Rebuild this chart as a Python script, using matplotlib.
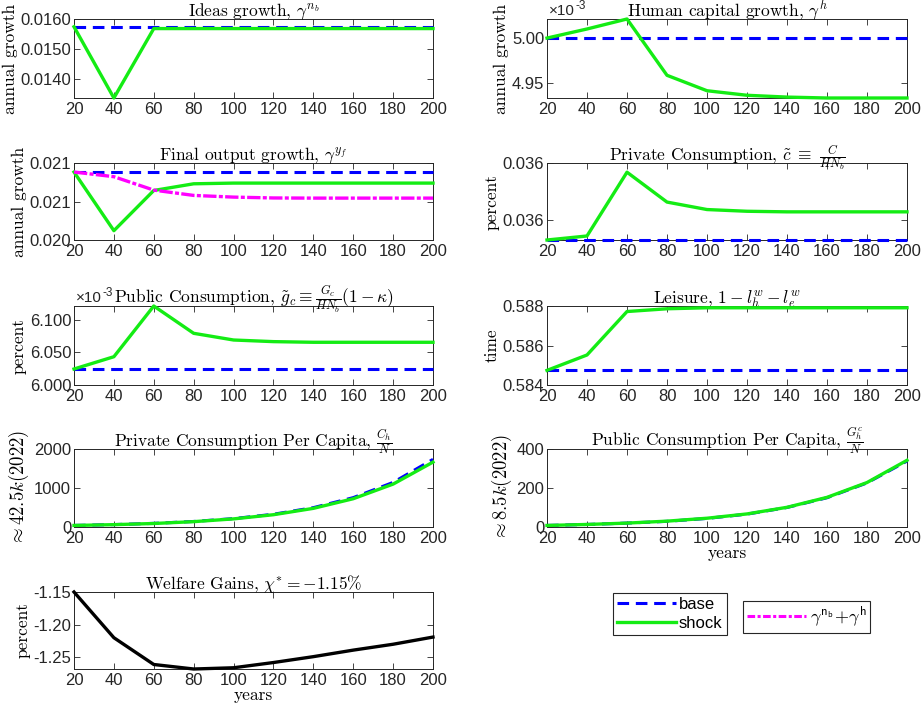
import matplotlib
matplotlib.use("Agg")
import matplotlib.pyplot as plt
from matplotlib.lines import Line2D
from matplotlib.ticker import FixedLocator, FixedFormatter

plt.rcParams['mathtext.fontset'] = 'cm'
plt.rcParams['axes.unicode_minus'] = False

SANS = ['Liberation Sans', 'DejaVu Sans']
SERIF = 'cmr10'
GRIS = '#262626'
BLEU = '#0000ff'
VERT = '#14ec14'
MAGENTA = '#ff00ff'

annees = [20, 40, 60, 80, 100, 120, 140, 160, 180, 200]

# croissance des idées
idees_base = [0.01574] * 10
idees_choc = [0.01574, 0.01336, 0.01568, 0.01568, 0.01568, 0.01568, 0.01568, 0.01568, 0.01568, 0.01568]

# croissance du capital humain
capital_base = [5.000e-3] * 10
capital_choc = [5.000e-3, 5.010e-3, 5.021e-3, 4.959e-3, 4.942e-3, 4.937e-3, 4.935e-3, 4.934e-3, 4.934e-3, 4.934e-3]

# croissance de la production finale
production_base = [0.020883] * 10
production_choc = [0.020883, 0.020121, 0.020643, 0.020730, 0.020739, 0.020739, 0.020739, 0.020739, 0.020739, 0.020739]
production_somme = [0.020883, 0.020822, 0.020648, 0.020579, 0.020557, 0.020546, 0.020544, 0.020544, 0.020544, 0.020544]

# consommation privée
conso_priv_base = [0.035866] * 10
conso_priv_choc = [0.035866, 0.035873, 0.035984, 0.035932, 0.035919, 0.035916, 0.035915, 0.035915, 0.035915, 0.035915]

# consommation publique
conso_pub_base = [6.0246e-3] * 10
conso_pub_choc = [6.0246e-3, 6.0435e-3, 6.1215e-3, 6.0795e-3, 6.0692e-3, 6.0667e-3, 6.0657e-3, 6.0657e-3, 6.0657e-3, 6.0657e-3]

# loisir
loisir_base = [0.58474] * 10
loisir_choc = [0.58474, 0.58552, 0.58772, 0.58786, 0.58791, 0.58791, 0.58791, 0.58791, 0.58791, 0.58791]

# consommation privée par habitant
conso_priv_hab_base = [40, 62, 93, 142, 215, 327, 496, 753, 1143, 1735]
conso_priv_hab_choc = [40, 60, 90, 137, 208, 315, 478, 725, 1100, 1664]

# consommation publique par habitant
conso_pub_hab_base = [8, 13, 20, 29, 44, 66, 100, 150, 226, 338]
conso_pub_hab_choc = [8, 13, 20, 30, 45, 67, 101, 152, 228, 342]

# gains de bien-être
bien_etre = [-1.150, -1.220, -1.261, -1.2679, -1.266, -1.258, -1.249, -1.239, -1.230, -1.219]

# graduations de l'axe y
ticks_idees = [0.0140, 0.0150, 0.0160]
labels_idees = ['0.0140', '0.0150', '0.0160']
ticks_capital = [4.95e-3, 5.00e-3]
labels_capital = ['4.95', '5.00']
ticks_production = [0.0200, 0.0205, 0.0210]
labels_production = ['0.020', '0.021', '0.021']
ticks_conso_priv = [0.0359, 0.0360]
labels_conso_priv = ['0.036', '0.036']
ticks_conso_pub = [6.000e-3, 6.050e-3, 6.100e-3]
labels_conso_pub = ['6.000', '6.050', '6.100']
ticks_loisir = [0.584, 0.586, 0.588]
labels_loisir = ['0.584', '0.586', '0.588']
ticks_priv_hab = [0, 1000, 2000]
labels_priv_hab = ['0', '1000', '2000']
ticks_pub_hab = [0, 200, 400]
labels_pub_hab = ['0', '200', '400']
ticks_bien_etre = [-1.25, -1.20, -1.15]
labels_bien_etre = ['-1.25', '-1.20', '-1.15']


def position(x0, x1, haut, bas):
    W, H = 922, 713
    return [x0 / W, 1 - bas / H, (x1 - x0) / W, (bas - haut) / H]


def preparer(ax, titre, ylabel, ylim, ticks, labels, xlabel=None, taille_y=12.5):
    ax.set_xlim(20, 200)
    ax.set_ylim(*ylim)
    ax.set_xticks(annees)
    ax.set_xticklabels([str(a) for a in annees])
    ax.yaxis.set_major_locator(FixedLocator(ticks))
    ax.yaxis.set_major_formatter(FixedFormatter(labels))
    ax.tick_params(direction='in', length=4, width=0.6, top=True, right=True,
                   colors=GRIS, labelsize=12)
    ax.tick_params(axis='y', pad=2)
    ax.tick_params(axis='x', pad=3)
    for lab in ax.get_xticklabels() + ax.get_yticklabels():
        lab.set_family(SANS)
    for s in ax.spines.values():
        s.set_color(GRIS)
        s.set_linewidth(0.7)
    ax.set_title(titre, fontsize=12.5, family=SERIF, pad=2)
    ax.set_ylabel(ylabel, fontsize=taille_y, family=SERIF, labelpad=2)
    if xlabel:
        ax.set_xlabel(xlabel, fontsize=12.5, family=SERIF, labelpad=0)


def base(ax, y):
    ax.plot(annees, y, color=BLEU, lw=2.2, dashes=(3.8, 2.2), clip_on=False, zorder=3)


def choc(ax, y):
    ax.plot(annees, y, color=VERT, lw=2.4, clip_on=False, zorder=4)


def puissance(ax):
    # facteur d'échelle ×10^-3 au-dessus de l'axe y
    ax.text(0.005, 1.01, '×10', transform=ax.transAxes, ha='left', va='bottom',
            fontsize=11, color=GRIS, family=SANS)
    ax.annotate('-3', xy=(0.005, 1.01), xycoords='axes fraction', xytext=(19, 4.5),
                textcoords='offset points', ha='left', va='bottom',
                fontsize=8.5, color=GRIS, family=SANS)


fig = plt.figure(figsize=(9.22, 7.13), dpi=100)

gauche = (74, 433)
droite = (547, 907)

ax1 = fig.add_axes(position(*gauche, 19, 98))
base(ax1, idees_base)
choc(ax1, idees_choc)
preparer(ax1, r'Ideas growth, $\gamma^{n_b}$', 'annual growth',
         (0.01336, 0.0160), ticks_idees, labels_idees)

ax2 = fig.add_axes(position(*droite, 19, 98))
base(ax2, capital_base)
choc(ax2, capital_choc)
preparer(ax2, r'Human capital growth, $\gamma^{h}$', 'annual growth',
         (4.934e-3, 5.021e-3), ticks_capital, labels_capital)
puissance(ax2)

ax3 = fig.add_axes(position(*gauche, 163, 240))
base(ax3, production_base)
choc(ax3, production_choc)
ax3.plot(annees, production_somme, color=MAGENTA, lw=2.4, ls=(0, (4, 0.7, 1.2, 0.7)),
         clip_on=False, zorder=5)
preparer(ax3, r'Final output growth, $\gamma^{y_f}$', 'annual growth',
         (0.0200, 0.0210), ticks_production, labels_production)

ax4 = fig.add_axes(position(*droite, 163, 240))
base(ax4, conso_priv_base)
choc(ax4, conso_priv_choc)
preparer(ax4, r'Private Consumption, $\tilde{c}\ \equiv\ \frac{C}{HN_b}$', 'percent',
         (0.035866, 0.0360), ticks_conso_priv, labels_conso_priv)

ax5 = fig.add_axes(position(*gauche, 306, 385))
base(ax5, conso_pub_base)
choc(ax5, conso_pub_choc)
preparer(ax5, r'Public Consumption, $\tilde{g}_c\equiv\frac{G_c}{HN_b}(1-\kappa)$', 'percent',
         (6.000e-3, 6.1215e-3), ticks_conso_pub, labels_conso_pub)
puissance(ax5)

ax6 = fig.add_axes(position(*droite, 306, 385))
base(ax6, loisir_base)
choc(ax6, loisir_choc)
preparer(ax6, r'Leisure, $1-l_h^w-l_e^w$', 'time',
         (0.584, 0.588), ticks_loisir, labels_loisir)

ax7 = fig.add_axes(position(*gauche, 449, 527))
base(ax7, conso_priv_hab_base)
choc(ax7, conso_priv_hab_choc)
preparer(ax7, r'Private Consumption Per Capita, $\frac{C_h}{N}$', r'$\approx 42.5k(2022)$',
         (0, 2000), ticks_priv_hab, labels_priv_hab, taille_y=13.5)

ax8 = fig.add_axes(position(*droite, 449, 527))
base(ax8, conso_pub_hab_base)
choc(ax8, conso_pub_hab_choc)
preparer(ax8, r'Public Consumption Per Capita, $\frac{G^c_h}{N}$', r'$\approx 8.5k(2022)$',
         (0, 400), ticks_pub_hab, labels_pub_hab, xlabel='years', taille_y=13.5)

ax9 = fig.add_axes(position(*gauche, 592, 669))
ax9.plot(annees, bien_etre, color='black', lw=2.4, clip_on=False, zorder=4)
preparer(ax9, r'Welfare Gains, $\chi^{*}=-1.15\%$', 'percent',
         (-1.2679, -1.15), ticks_bien_etre, labels_bien_etre, xlabel='years')

# légendes
poignees1 = [Line2D([], [], color=BLEU, lw=2.2, dashes=(3.8, 2.2)),
             Line2D([], [], color=VERT, lw=2.4)]
leg1 = fig.legend(poignees1, ['base', 'shock'], loc='upper left',
                  bbox_to_anchor=(613 / 922, 1 - 593 / 713),
                  prop={'family': SANS, 'size': 12}, fancybox=False,
                  edgecolor=GRIS, framealpha=1, handlelength=3.5,
                  handletextpad=0.2, borderpad=0.25, labelspacing=0.2,
                  borderaxespad=0)
leg1.get_frame().set_linewidth(0.8)

poignees2 = [Line2D([], [], color=MAGENTA, lw=2.2, ls=(0, (2.5, 0.8, 1, 0.8)))]
leg2 = fig.legend(poignees2, [r'$\mathsf{\gamma^{n_b}{+}\gamma^{h}}$'], loc='upper left',
                  bbox_to_anchor=(743 / 922, 1 - 601 / 713),
                  prop={'family': SANS, 'size': 13}, fancybox=False,
                  edgecolor=GRIS, framealpha=1, handlelength=3.3,
                  handletextpad=0.2, borderpad=0.2, borderaxespad=0)
leg2.get_frame().set_linewidth(0.8)

fig.savefig('out.png', dpi=100)
